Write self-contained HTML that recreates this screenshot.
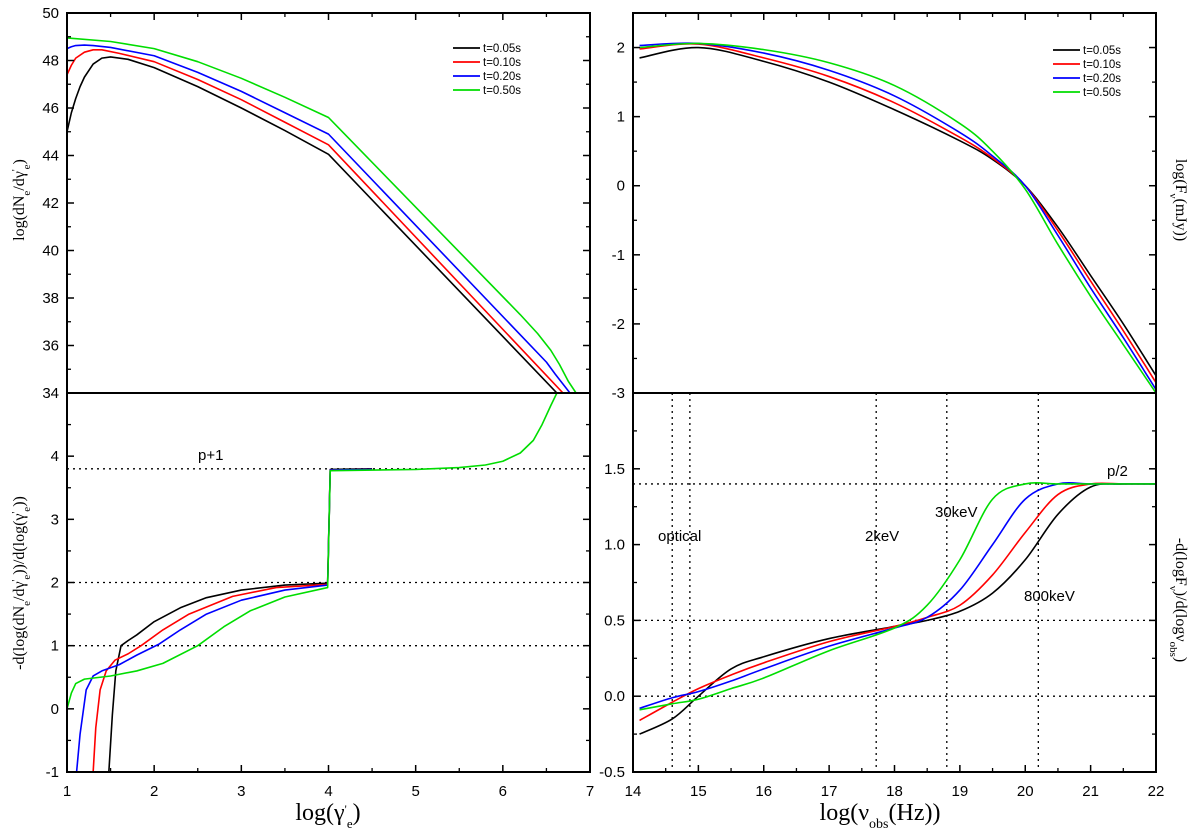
<!DOCTYPE html>
<html><head><meta charset="utf-8">
<style>
body{margin:0;background:#fff;}
svg{display:block;font-family:"Liberation Sans",sans-serif;}
</style></head>
<body>
<svg id="c" width="1200" height="836" viewBox="0 0 1200 836" xmlns="http://www.w3.org/2000/svg"></svg>
<script>
// ---------- data ----------
const seriesNames = ["t=0.05s","t=0.10s","t=0.20s","t=0.50s"];
const seriesColors = ["#000000","#ff0000","#0000ff","#00dd00"];

// Panel A: log(dNe/dgamma) vs log(gamma)
const aX = [
 [1.0,1.05,1.1,1.15,1.2,1.3,1.4,1.5,1.7,2.0,2.5,3.0,3.5,4.0,6.62],
 [1.0,1.05,1.1,1.2,1.3,1.4,1.6,2.0,2.5,3.0,3.5,4.0,6.69],
 [1.0,1.05,1.1,1.2,1.3,1.5,2.0,2.5,3.0,3.5,4.0,6.5,6.6,6.77],
 [1.0,1.5,2.0,2.5,3.0,3.5,4.0,6.2,6.4,6.55,6.65,6.75,6.84]
];
const aY = [
 [45.0,45.8,46.4,46.9,47.3,47.85,48.1,48.15,48.05,47.7,46.9,46.0,45.05,44.05,34.0],
 [47.4,47.8,48.1,48.35,48.45,48.45,48.3,47.95,47.2,46.35,45.4,44.45,34.0],
 [48.5,48.58,48.63,48.65,48.63,48.55,48.2,47.5,46.7,45.8,44.9,35.3,34.8,34.0],
 [48.95,48.8,48.5,47.95,47.25,46.45,45.6,37.3,36.5,35.8,35.2,34.5,34.0]
];
// Panel B: local slope vs log(gamma)
const bX = [
 [1.48,1.52,1.56,1.62,1.7,1.8,2.0,2.3,2.6,3.0,3.5,3.99,4.02,4.5],
 [1.3,1.33,1.38,1.45,1.55,1.7,1.85,2.1,2.4,2.9,3.4,3.99,4.02,4.5],
 [1.11,1.15,1.22,1.3,1.4,1.6,1.8,2.05,2.3,2.6,3.0,3.5,3.99,4.02,4.5],
 [1.0,1.05,1.1,1.2,1.5,1.8,2.1,2.5,2.8,3.1,3.5,3.99,4.02,5.0,5.5,5.8,6.0,6.2,6.35,6.45,6.55,6.62]
];
const bY = [
 [-1.0,-0.1,0.6,1.0,1.08,1.17,1.38,1.6,1.76,1.88,1.96,1.99,3.79,3.8],
 [-1.0,-0.3,0.3,0.6,0.77,0.87,1.0,1.25,1.5,1.78,1.92,1.97,3.78,3.79],
 [-1.0,-0.4,0.3,0.52,0.6,0.7,0.85,1.02,1.25,1.5,1.72,1.88,1.96,3.78,3.79],
 [0.0,0.25,0.4,0.47,0.52,0.6,0.72,1.0,1.3,1.55,1.77,1.92,3.77,3.79,3.82,3.86,3.92,4.05,4.25,4.5,4.8,5.0]
];
// Panel C: log F vs log nu
const cX = [14.1,15,16,17,18,19,19.5,20,20.5,21,21.5,22];
const cY = [
 [1.85,2.0,1.8,1.5,1.1,0.65,0.38,0.0,-0.6,-1.3,-2.0,-2.75],
 [1.98,2.05,1.85,1.58,1.2,0.7,0.4,0.0,-0.65,-1.38,-2.1,-2.85],
 [2.03,2.06,1.92,1.67,1.3,0.77,0.43,0.0,-0.72,-1.48,-2.2,-2.95],
 [2.0,2.06,1.97,1.78,1.45,0.9,0.5,-0.05,-0.85,-1.6,-2.3,-3.0]
];
// Panel D: spectral slope vs log nu
const dX = [14.1,14.6,15,15.5,16,17,18,18.5,19,19.5,20,20.5,21,21.5,22];
const dY = [
 [-0.25,-0.15,0.0,0.18,0.26,0.38,0.46,0.5,0.56,0.68,0.9,1.2,1.38,1.4,1.4],
 [-0.16,-0.04,0.05,0.14,0.22,0.36,0.46,0.52,0.6,0.8,1.08,1.33,1.4,1.4,1.4],
 [-0.08,-0.01,0.03,0.1,0.18,0.33,0.45,0.52,0.7,1.0,1.3,1.4,1.4,1.4,1.4],
 [-0.09,-0.05,-0.02,0.05,0.12,0.3,0.45,0.6,0.9,1.3,1.4,1.4,1.4,1.4,1.4]
];
const leftXTicks = [1,2,3,4,5,6,7];
const rightXTicks = [14,15,16,17,18,19,20,21,22];
const aYTicks = [34,36,38,40,42,44,46,48,50];
const bYTicks = [-1,0,1,2,3,4];
const cYTicks = [-3,-2,-1,0,1,2];
const dYTicks = [-0.5,0.0,0.5,1.0,1.5];
const bHLines = [3.8,2,1];
const dHLines = [1.4,0.5,0.0];
const dVLines = [14.6,14.87,17.72,18.8,20.2];

// ---------- drawing ----------
const svg = document.getElementById('c');
const NS = "http://www.w3.org/2000/svg";
function mk(tag, attrs, parent){
  const e = document.createElementNS(NS, tag);
  for (const k in attrs) e.setAttribute(k, attrs[k]);
  (parent||svg).appendChild(e);
  return e;
}
function lin(d0,d1,r0,r1){ return v => r0 + (v-d0)/(d1-d0)*(r1-r0); }
function linePath(pts){
  return "M"+pts.map(p=>p[0].toFixed(2)+","+p[1].toFixed(2)).join(" L");
}
function smoothPath(pts){
  let d = "M"+pts[0][0].toFixed(2)+","+pts[0][1].toFixed(2);
  for (let i=0;i<pts.length-1;i++){
    const p0=pts[Math.max(0,i-1)], p1=pts[i], p2=pts[i+1], p3=pts[Math.min(pts.length-1,i+2)];
    const c1x=p1[0]+(p2[0]-p0[0])/6, c1y=p1[1]+(p2[1]-p0[1])/6;
    const c2x=p2[0]-(p3[0]-p1[0])/6, c2y=p2[1]-(p3[1]-p1[1])/6;
    d += " C"+c1x.toFixed(2)+","+c1y.toFixed(2)+" "+c2x.toFixed(2)+","+c2y.toFixed(2)+" "+p2[0].toFixed(2)+","+p2[1].toFixed(2);
  }
  return d;
}

function panel(cfg){
  const g = mk('g',{});
  
  
  const sx = lin(cfg.xd[0],cfg.xd[1],cfg.x0,cfg.x1);
  const sy = lin(cfg.yd[0],cfg.yd[1],cfg.y1,cfg.y0);
  const clipId = cfg.name+"-clip";
  const cp = mk('clipPath',{id:clipId},g);
  mk('rect',{x:cfg.x0,y:cfg.y0,width:cfg.x1-cfg.x0,height:cfg.y1-cfg.y0},cp);
  (cfg.hlines||[]).forEach(v=>{
    const l = mk('line',{x1:cfg.x0,x2:cfg.x1,y1:sy(v),y2:sy(v),stroke:'#000','stroke-width':1.3,'stroke-dasharray':'2,4'},g);
    
    
  });
  (cfg.vlines||[]).forEach(v=>{
    const l = mk('line',{x1:sx(v),x2:sx(v),y1:cfg.y0,y2:cfg.y1,stroke:'#000','stroke-width':1.3,'stroke-dasharray':'2,4'},g);
    
    
  });
  const sg = mk('g',{'clip-path':'url(#'+clipId+')'},g);
  for (let s=0;s<4;s++){
    const xs = Array.isArray(cfg.xs[0]) ? cfg.xs[s] : cfg.xs;
    const pts = xs.map((x,i)=>[sx(x),sy(cfg.ys[s][i])]);
    const p = mk('path',{d:(cfg.smooth?smoothPath(pts):linePath(pts)),fill:'none',stroke:seriesColors[s],'stroke-width':1.6,'stroke-linejoin':'round'},sg);
    
    
  }
  const f = mk('rect',{x:cfg.x0,y:cfg.y0,width:cfg.x1-cfg.x0,height:cfg.y1-cfg.y0,fill:'none',stroke:'#000','stroke-width':2},g);
  
  
  const xstep = cfg.xt[1]-cfg.xt[0];
  cfg.xt.forEach((v,i)=>{
    const x=sx(v);
    if (cfg.xTickTop) mk('line',{x1:x,x2:x,y1:cfg.y0,y2:cfg.y0+7,stroke:'#000','stroke-width':1.5},g);
    if (cfg.xTickBottom) mk('line',{x1:x,x2:x,y1:cfg.y1,y2:cfg.y1-7,stroke:'#000','stroke-width':1.5},g);
    if (i<cfg.xt.length-1){
      const xm=sx(v+xstep/2);
      if (cfg.xTickTop) mk('line',{x1:xm,x2:xm,y1:cfg.y0,y2:cfg.y0+4,stroke:'#000','stroke-width':1.3},g);
      if (cfg.xTickBottom) mk('line',{x1:xm,x2:xm,y1:cfg.y1,y2:cfg.y1-4,stroke:'#000','stroke-width':1.3},g);
    }
    if (cfg.xLabels){
      const t = mk('text',{x:x,y:cfg.y1+24,'font-size':15,'text-anchor':'middle'},g);
      t.textContent = v;
      
      
    }
  });
  const ystep = cfg.yt[1]-cfg.yt[0];
  cfg.yt.forEach((v,i)=>{
    const y=sy(v);
    mk('line',{x1:cfg.x0,x2:cfg.x0+7,y1:y,y2:y,stroke:'#000','stroke-width':1.5},g);
    mk('line',{x1:cfg.x1,x2:cfg.x1-7,y1:y,y2:y,stroke:'#000','stroke-width':1.5},g);
    const ym = sy(v+ystep/2);
    if (ym>=cfg.y0-0.5){
      mk('line',{x1:cfg.x0,x2:cfg.x0+4,y1:ym,y2:ym,stroke:'#000','stroke-width':1.3},g);
      mk('line',{x1:cfg.x1,x2:cfg.x1-4,y1:ym,y2:ym,stroke:'#000','stroke-width':1.3},g);
    }
    const t = mk('text',{x:cfg.x0-8,y:y+5,'font-size':15,'text-anchor':'end'},g);
    t.textContent = cfg.yFmt ? cfg.yFmt(v) : v;
    
    
  });
  return {sx,sy,g};
}

panel({name:'electron-spectrum-panel',x0:67,x1:590,y0:13,y1:393,xd:[1,7],yd:[34,50],xt:leftXTicks,yt:aYTicks,xs:aX,ys:aY,xTickTop:true,xTickBottom:false,smooth:false});
panel({name:'electron-slope-panel',x0:67,x1:590,y0:393,y1:772,xd:[1,7],yd:[-1,5],xt:leftXTicks,yt:bYTicks,xs:bX,ys:bY,hlines:bHLines,xTickTop:false,xTickBottom:true,xLabels:true,smooth:false});
panel({name:'flux-spectrum-panel',x0:633,x1:1156,y0:13,y1:393,xd:[14,22],yd:[-3,2.5],xt:rightXTicks,yt:cYTicks,xs:cX,ys:cY,xTickTop:true,xTickBottom:false,smooth:true});
panel({name:'spectral-slope-panel',x0:633,x1:1156,y0:393,y1:772,xd:[14,22],yd:[-0.5,2.0],xt:rightXTicks,yt:dYTicks,xs:dX,ys:dY,hlines:dHLines,vlines:dVLines,xTickTop:false,xTickBottom:true,xLabels:true,yFmt:v=>v.toFixed(1),smooth:true});

function legend(x,y,name){
  const g = mk('g',{});
  
  
  for (let s=0;s<4;s++){
    const yy=y+s*14;
    mk('line',{x1:x,x2:x+27,y1:yy,y2:yy,stroke:seriesColors[s],'stroke-width':1.8},g);
    const t=mk('text',{x:x+30,y:yy+4,'font-size':11.5},g);
    t.textContent=seriesNames[s];
    
    
  }
}
legend(453,48,'legend-left');
legend(1053,50,'legend-right');

function txt(x,y,s,name,size,extra){
  const t=mk('text',Object.assign({x:x,y:y,'font-size':size||15},extra||{}));
  t.innerHTML=s;
  
  
  return t;
}
txt(198,460,'p+1','label-p-plus-1');
txt(658,541,'optical','label-optical');
txt(865,541,'2keV','label-2kev');
txt(935,517,'30keV','label-30kev');
txt(1024,601,'800keV','label-800kev');
txt(1107,476,'p/2','label-p-over-2');

txt(328,820,'log(γ<tspan baseline-shift="super" font-size="12">\'</tspan><tspan baseline-shift="sub" font-size="13">e</tspan>)','x-axis-title-left',24,{'font-family':'"Liberation Serif",serif','text-anchor':'middle'});
txt(880,820,'log(ν<tspan baseline-shift="sub" font-size="14">obs</tspan>(Hz))','x-axis-title-right',24,{'font-family':'"Liberation Serif",serif','text-anchor':'middle'});
txt(0,0,'log(dN<tspan baseline-shift="sub" font-size="11">e</tspan>/dγ<tspan baseline-shift="super" font-size="10">\'</tspan><tspan baseline-shift="sub" font-size="11">e</tspan>)','y-axis-title-top-left',16,{'font-family':'"Liberation Serif",serif','text-anchor':'middle',transform:'translate(24,200) rotate(-90)'});
txt(0,0,'-d(log(dN<tspan baseline-shift="sub" font-size="11">e</tspan>/dγ<tspan baseline-shift="super" font-size="10">\'</tspan><tspan baseline-shift="sub" font-size="11">e</tspan>))/d(log(γ<tspan baseline-shift="super" font-size="10">\'</tspan><tspan baseline-shift="sub" font-size="11">e</tspan>))','y-axis-title-bottom-left',16,{'font-family':'"Liberation Serif",serif','text-anchor':'middle',transform:'translate(24,583) rotate(-90)'});
txt(0,0,'log(F<tspan baseline-shift="sub" font-size="11">ν</tspan>(mJy))','y-axis-title-top-right',16,{'font-family':'"Liberation Serif",serif','text-anchor':'middle',transform:'translate(1176,200) rotate(90)'});
txt(0,0,'-d(logF<tspan baseline-shift="sub" font-size="11">ν</tspan>)/d(logν<tspan baseline-shift="sub" font-size="11">obs</tspan>)','y-axis-title-bottom-right',16,{'font-family':'"Liberation Serif",serif','text-anchor':'middle',transform:'translate(1176,600) rotate(90)'});
</script>
</body></html>
